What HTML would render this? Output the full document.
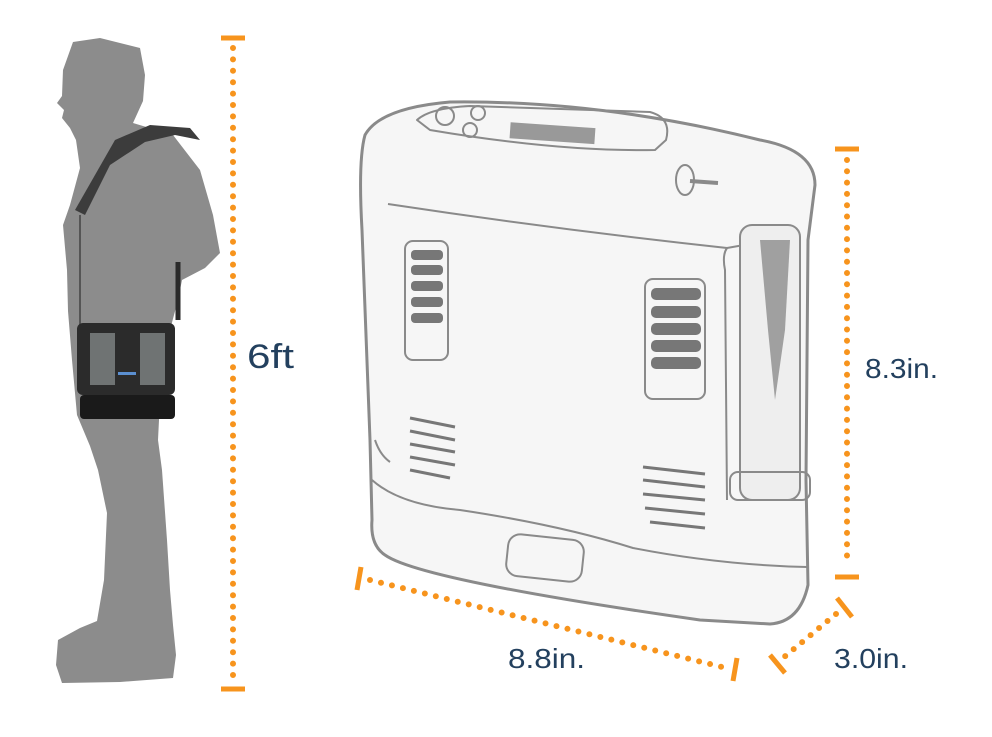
<!DOCTYPE html>
<html><head><meta charset="utf-8"><style>
html,body{margin:0;padding:0;background:#fff;}
svg{display:block;}
text{font-family:"Liberation Sans",sans-serif;fill:#23405e;}
</style></head><body>
<svg width="992" height="737" viewBox="0 0 992 737" xmlns="http://www.w3.org/2000/svg">
<!-- man silhouette -->
<path fill="#8c8c8c" d="M73,42 L100,38 L140,48 L145,75 L143,101 L133,123 L173,135 L200,170 L213,215 L220,253 L205,268 L182,280 L178,300 L170,330 L160,400 L158,440 L162,470 L167,540 L170,590 L173,625 L176,655 L173,678 L120,682 L62,683 L56,665 L58,640 L80,628 L97,621 L104,580 L107,513 L98,470 L90,446 L77,415 L72,360 L68,311 L67,270 L63,225 L70,205 L80,168 L76,140 L70,128 L62,118 L64,110 L57,103 L62,96 L63,70 Z"/>
<!-- strap -->
<path d="M75,210 L115,140 L150,125 L190,128 L200,140 L175,135 L145,142 L110,165 L85,215 Z" fill="#3c3c3c"/>
<line x1="80" y1="215" x2="80" y2="325" stroke="#555" stroke-width="2"/>
<line x1="178" y1="262" x2="178" y2="320" stroke="#2a2a2a" stroke-width="5"/>
<!-- bag -->
<rect x="77" y="323" width="98" height="72" rx="6" fill="#2b2b2b"/>
<rect x="90" y="333" width="25" height="52" fill="#6f7373"/>
<rect x="140" y="333" width="25" height="52" fill="#6f7373"/>
<rect x="80" y="395" width="95" height="24" rx="4" fill="#1a1a1a"/>
<rect x="118" y="372" width="18" height="3" fill="#5b8fd0"/>
<!-- device -->
<g fill="none" stroke="#8a8a8a" stroke-width="3" stroke-linejoin="round">
<path fill="#f6f6f6" d="M365,135 Q380,108 450,102 Q600,100 760,140 Q815,150 815,185 L808,240 L806,480 L808,585 Q800,622 770,624 L700,620 Q420,580 385,555 Q370,545 372,520 L370,440 L362,230 Q358,160 365,135 Z"/>
<path d="M388,204 Q560,230 727,248 L800,235" stroke-width="2"/>
<path d="M727,248 Q722,255 725,270 L727,500" stroke-width="2"/>
<path d="M372,480 Q400,505 460,510 Q560,525 633,548 Q720,565 807,567" stroke-width="2"/>
<path d="M375,440 Q380,455 390,462" stroke-width="2"/>
<rect x="740" y="225" width="60" height="275" rx="12" stroke-width="2" fill="#eee"/>
<path d="M760,240 L790,240 L785,330 L775,400 L768,330 Z" fill="#a0a0a0" stroke="none"/>
<rect x="730" y="472" width="80" height="28" rx="8" stroke-width="2"/>
<path d="M417,120 Q430,108 470,106 L650,112 Q672,118 666,140 L655,150 Q560,152 430,130 Z" stroke-width="2"/>
<rect x="510" y="125" width="85" height="16" fill="#999" stroke="none" transform="rotate(4 550 133)"/>
<circle cx="445" cy="116" r="9" stroke-width="2"/>
<circle cx="478" cy="113" r="7" stroke-width="2"/>
<circle cx="470" cy="130" r="7" stroke-width="2"/>
<ellipse cx="685" cy="180" rx="9" ry="15" stroke-width="2"/>
<line x1="690" y1="181" x2="718" y2="183" stroke-width="4"/>
<rect x="405" y="241" width="43" height="119" rx="8" stroke-width="2"/>
<rect x="645" y="279" width="60" height="120" rx="8" stroke-width="2"/>
<rect x="507" y="537" width="76" height="42" rx="12" stroke-width="2" transform="rotate(6 545 558)"/>
</g>
<g fill="#777">
<rect x="411" y="250" width="32" height="10" rx="4"/><rect x="411" y="265" width="32" height="10" rx="4"/><rect x="411" y="281" width="32" height="10" rx="4"/><rect x="411" y="297" width="32" height="10" rx="4"/><rect x="411" y="313" width="32" height="10" rx="4"/>
<rect x="651" y="288" width="50" height="12" rx="5"/><rect x="651" y="306" width="50" height="12" rx="5"/><rect x="651" y="323" width="50" height="12" rx="5"/><rect x="651" y="340" width="50" height="12" rx="5"/><rect x="651" y="357" width="50" height="12" rx="5"/>
</g>
<g stroke="#777" stroke-width="3">
<line x1="410" y1="418" x2="455" y2="427"/><line x1="410" y1="431" x2="455" y2="440"/><line x1="410" y1="444" x2="455" y2="452"/><line x1="410" y1="457" x2="455" y2="465"/><line x1="410" y1="470" x2="450" y2="478"/>
<line x1="643" y1="467" x2="705" y2="474"/><line x1="643" y1="480" x2="705" y2="487"/><line x1="643" y1="494" x2="705" y2="500"/><line x1="645" y1="508" x2="705" y2="514"/><line x1="650" y1="522" x2="705" y2="528"/>
</g>
<!-- dimension lines -->
<g stroke="#f7941d" stroke-linecap="round">
<line x1="221" y1="38" x2="245" y2="38" stroke-width="5" stroke-linecap="butt"/>
<line x1="221" y1="689" x2="245" y2="689" stroke-width="5" stroke-linecap="butt"/>
<line x1="233" y1="48" x2="233" y2="680" stroke-width="6" stroke-dasharray="0 11.4"/>
<line x1="835" y1="149" x2="859" y2="149" stroke-width="5" stroke-linecap="butt"/>
<line x1="835" y1="577" x2="859" y2="577" stroke-width="5" stroke-linecap="butt"/>
<line x1="847" y1="160" x2="847" y2="566" stroke-width="6" stroke-dasharray="0 11.3"/>
<line x1="361" y1="567" x2="357" y2="590" stroke-width="5" stroke-linecap="butt"/>
<line x1="737" y1="658" x2="733" y2="681" stroke-width="5" stroke-linecap="butt"/>
<line x1="370" y1="580" x2="726" y2="668" stroke-width="6" stroke-dasharray="0 11.3"/>
<line x1="837" y1="598" x2="852" y2="617" stroke-width="5" stroke-linecap="butt"/>
<line x1="770" y1="655" x2="785" y2="673" stroke-width="5" stroke-linecap="butt"/>
<line x1="836" y1="614" x2="783" y2="658" stroke-width="6" stroke-dasharray="0 11"/>
</g>
<text x="247" y="368" font-size="34" textLength="47" lengthAdjust="spacingAndGlyphs">6ft</text>
<text x="865" y="378" font-size="28" textLength="73" lengthAdjust="spacingAndGlyphs">8.3in.</text>
<text x="508" y="668" font-size="28" textLength="77" lengthAdjust="spacingAndGlyphs">8.8in.</text>
<text x="834" y="668" font-size="28" textLength="74" lengthAdjust="spacingAndGlyphs">3.0in.</text>
</svg>
</body></html>
